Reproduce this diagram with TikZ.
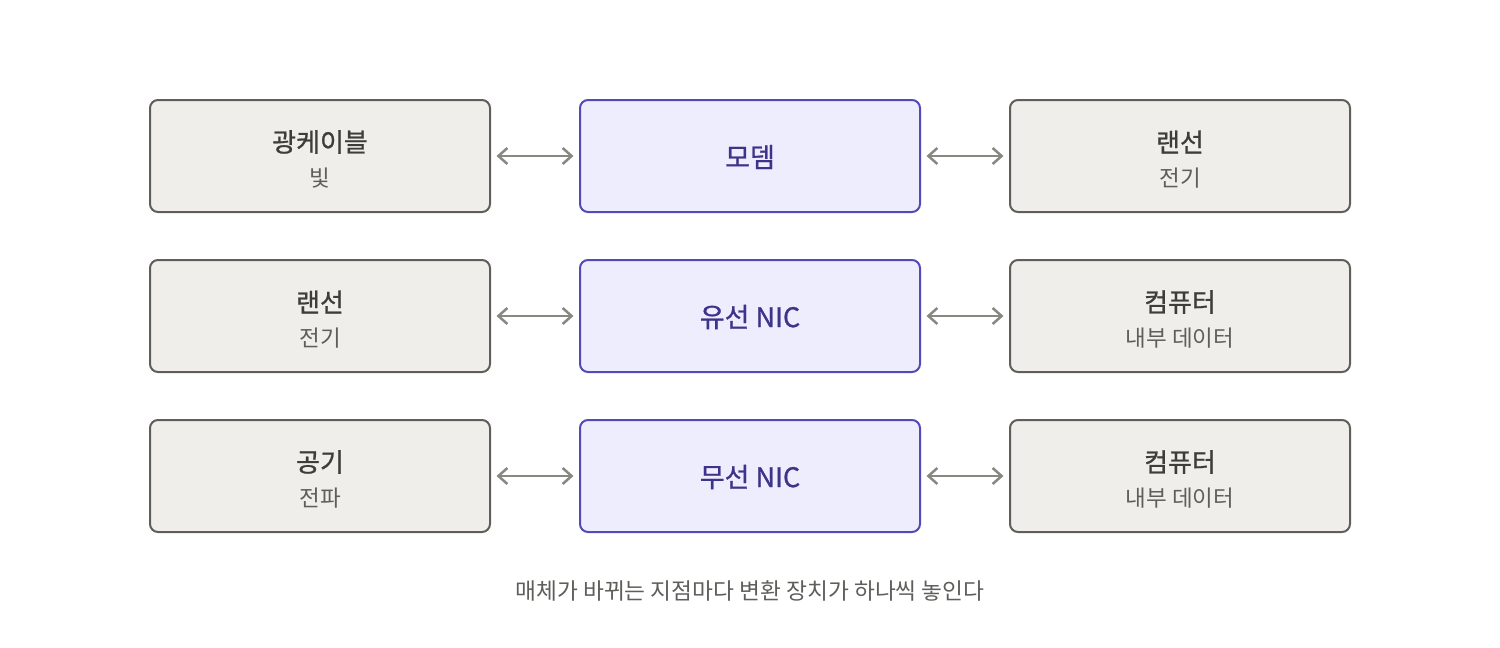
\documentclass[tikz,border=0pt]{standalone}
\usepackage{fontspec}
\setmainfont{Noto Sans CJK KR}
\newfontfamily\krmed[FakeBold=0.9]{Noto Sans CJK KR}
\usetikzlibrary{arrows.meta}
\definecolor{gfill}{HTML}{EFEEEA}
\definecolor{gdraw}{HTML}{5F5E5A}
\definecolor{pfill}{HTML}{EEEDFE}
\definecolor{pdraw}{HTML}{534AB7}
\definecolor{ptext}{HTML}{3C3489}
\definecolor{ttext}{HTML}{3D3D3A}
\definecolor{stext}{HTML}{5F5E5A}
\definecolor{arr}{HTML}{888780}
\tikzset{
  graybox/.style={draw=gdraw, fill=gfill, line width=2pt, rounded corners=8pt, minimum width=340pt, minimum height=112pt, inner sep=0pt},
  purplebox/.style={draw=pdraw, fill=pfill, line width=2pt, rounded corners=8pt, minimum width=340pt, minimum height=112pt, inner sep=0pt},
  ttl/.style={font=\fontsize{26pt}{30pt}\krmed, text=ttext, inner sep=0pt, anchor=center},
  sub/.style={font=\fontsize{22.5pt}{26pt}\selectfont, text=stext, inner sep=0pt, anchor=center},
  mid/.style={font=\fontsize{27pt}{31pt}\krmed, text=ptext, inner sep=0pt, anchor=center},
  conn/.style={draw=arr, line width=2.5pt, {Straight Barb[length=9pt,width=16pt,line width=2.5pt]}-{Straight Barb[length=9pt,width=16pt,line width=2.5pt]}, shorten <=5.5pt, shorten >=5.5pt},
}
\begin{document}
\begin{tikzpicture}[x=1pt,y=-1pt]
\useasboundingbox (0,0) rectangle (1500,648);
% row 1
\node[graybox] (a1) at (320,156) {};
\node[ttl] (a1t) at (320,142) {광케이블};
\node[sub] (a1s) at (320,178) {빛};
\node[purplebox] (b1) at (750,156) {};
\node[mid] (b1t) at (750,157) {모뎀};
\node[graybox] (c1) at (1180,156) {};
\node[ttl] (c1t) at (1180,142) {랜선};
\node[sub] (c1s) at (1180,178) {전기};
% row 2
\node[graybox] (a2) at (320,316) {};
\node[ttl] (a2t) at (320,302) {랜선};
\node[sub] (a2s) at (320,338) {전기};
\node[purplebox] (b2) at (750,316) {};
\node[mid] (b2t) at (750,317) {유선 NIC};
\node[graybox] (c2) at (1180,316) {};
\node[ttl] (c2t) at (1180,302) {컴퓨터};
\node[sub] (c2s) at (1180,338) {내부 데이터};
% row 3
\node[graybox] (a3) at (320,476) {};
\node[ttl] (a3t) at (320,462) {공기};
\node[sub] (a3s) at (320,498) {전파};
\node[purplebox] (b3) at (750,476) {};
\node[mid] (b3t) at (750,477) {무선 NIC};
\node[graybox] (c3) at (1180,476) {};
\node[ttl] (c3t) at (1180,462) {컴퓨터};
\node[sub] (c3s) at (1180,498) {내부 데이터};
% connectors
\draw[conn] (a1.east) -- (b1.west);
\draw[conn] (b1.east) -- (c1.west);
\draw[conn] (a2.east) -- (b2.west);
\draw[conn] (b2.east) -- (c2.west);
\draw[conn] (a3.east) -- (b3.west);
\draw[conn] (b3.east) -- (c3.west);
% caption
\node[sub, font=\fontsize{22.7pt}{26pt}\selectfont] (cap) at (750,591) {매체가 바뀌는 지점마다 변환 장치가 하나씩 놓인다};
\end{tikzpicture}
\end{document}
